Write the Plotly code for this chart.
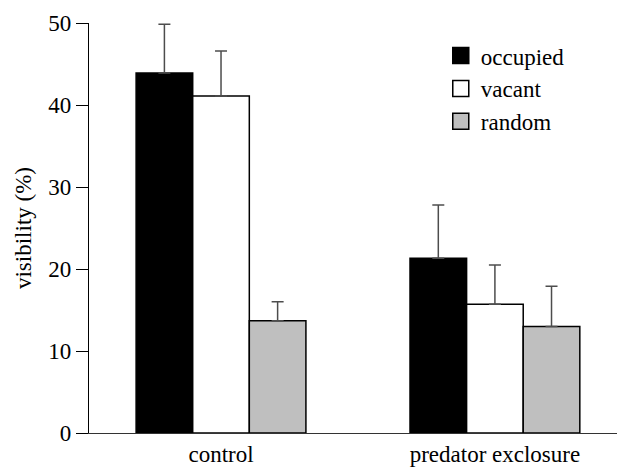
import plotly.graph_objects as go

groups = ["control", "predator exclosure"]
group_pos = [0, 1]
series = ["occupied", "vacant", "random"]
occupied = [43.9, 21.3]
vacant = [41.1, 15.7]
random_ = [13.7, 13.0]
occupied_err = [5.95, 6.5]
vacant_err = [5.5, 4.8]
random_err = [2.3, 4.9]
yticks = [0, 10, 20, 30, 40, 50]

fills = ["#000000", "#ffffff", "#bfbfbf"]
values = [occupied, vacant, random_]
errors = [occupied_err, vacant_err, random_err]

fig = go.Figure()
for name, vals, errs, col in zip(series, values, errors, fills):
    fig.add_trace(go.Bar(
        x=group_pos, y=vals, name=name, showlegend=False,
        marker=dict(color=col, line=dict(color="#000000", width=1.5)),
        error_y=dict(type="data", symmetric=False, array=errs,
                     arrayminus=[0] * len(errs), color="#4d4d4d",
                     thickness=1.5, width=6),
    ))
# legend entries with larger square swatches
for name, col in zip(series, fills):
    fig.add_trace(go.Scatter(
        x=[None], y=[None], mode="markers", name=name,
        marker=dict(symbol="square", size=16, color=col,
                    line=dict(color="#000000", width=1.5)),
    ))

font = dict(family="Liberation Serif", size=23, color="#000000")
fig.update_layout(
    width=617, height=459,
    margin=dict(l=81, r=3, t=15, b=34, autoexpand=False),
    paper_bgcolor="white", plot_bgcolor="white",
    barmode="group", bargap=0.38, bargroupgap=0,
    font=font,
    showlegend=True,
    legend=dict(x=0.66, y=0.973, xanchor="left", yanchor="top",
                bgcolor="rgba(0,0,0,0)", font=font, tracegroupgap=0,
                itemsizing="trace"),
    xaxis=dict(range=[-0.482, 1.464], tickvals=group_pos, ticktext=groups,
               showline=True, linecolor="#333333", linewidth=1.2,
               ticks="", showgrid=False, zeroline=False, fixedrange=True,
               automargin=False, tickfont=font),
    yaxis=dict(range=[0, 50], tickvals=yticks, showline=True,
               linecolor="#000000", linewidth=1.2, ticks="outside",
               ticklen=12, tickcolor="#000000", tickwidth=1.2,
               showgrid=False, zeroline=False, automargin=False,
               tickfont=font,
               title=dict(text="visibility (%)", standoff=10, font=font)),
)
fig.write_html("out.html")
